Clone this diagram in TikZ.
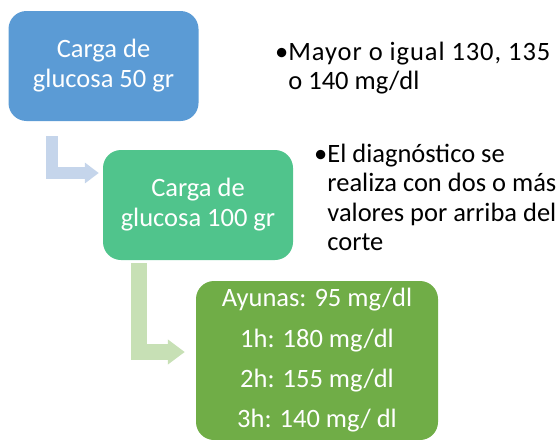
\documentclass[tikz,border=0pt]{standalone}
\usepackage{fontspec}
\setmainfont{Carlito}
\usetikzlibrary{arrows.meta}
\usetikzlibrary{positioning}

\definecolor{azulcarga}{HTML}{5B9BD5}
\definecolor{verdecarga}{HTML}{50C48C}
\definecolor{verderesultado}{HTML}{70AD47}
\definecolor{azulflecha}{HTML}{C5D5EB}
\definecolor{verdeflecha}{HTML}{C7E0B5}

\begin{document}
\begin{tikzpicture}[x=1pt,y=-1pt]

    % Define styles
    \tikzstyle{stage} = [rectangle, rounded corners=18pt, text=white, align=center, inner sep=0pt, minimum height=110pt, minimum width=190pt, font=\fontsize{26.5}{30}\selectfont]
    \tikzstyle{result} = [rectangle, rounded corners=18pt, fill=verderesultado, text=white, align=center, inner sep=0pt, minimum height=159pt, minimum width=242pt, font=\fontsize{26.5}{40.3}\selectfont]
    \tikzstyle{note} = [inner sep=0pt, anchor=base west, font=\fontsize{26.5}{29.5}\selectfont]
    \tikzstyle{bluearrow} = [draw=azulflecha, line width=12.5pt, -{Triangle[length=14pt,width=20pt]}]
    \tikzstyle{greenarrow} = [draw=verdeflecha, line width=16.5pt, -{Triangle[length=17pt,width=24pt]}]

    \useasboundingbox (0,0) rectangle (559,439);

    % Steps
    \node[stage, fill=azulcarga] (carga50) at (103.5, 66) {Carga de\\glucosa 50 gr};
    \node[stage, fill=verdecarga] (carga100) at (198, 205) {Carga de\\glucosa 100 gr};
    \node[result] (valores) at (317, 360.5) {Ayunas: 95 mg/dl\\1h: 180 mg/dl\\2h: 155 mg/dl\\3h: 140 mg/ dl};

    % Notes
    \node[note] (nota50) at (275, 60) {\begin{tabular}[t]{@{}l@{}l@{}}•&{\addfontfeature{LetterSpace=3.5}Mayor o igual 130, 135}\\&o 140 mg/dl\end{tabular}};
    \node[note] (nota100) at (314, 162) {\begin{tabular}[t]{@{}l@{}l@{}}•&El diagnóstico se\\&realiza con dos o más\\&valores por arriba del\\&corte\end{tabular}};

    % Arrows
    \draw[bluearrow] ([xshift=43.5pt,yshift=-15pt]carga50.south west) |- ([xshift=-4pt,yshift=32pt]carga100.west);
    \draw[greenarrow] ([xshift=36pt,yshift=-3pt]carga100.south west) |- ([xshift=-11pt,yshift=8.5pt]valores.west);

\end{tikzpicture}
\end{document}
